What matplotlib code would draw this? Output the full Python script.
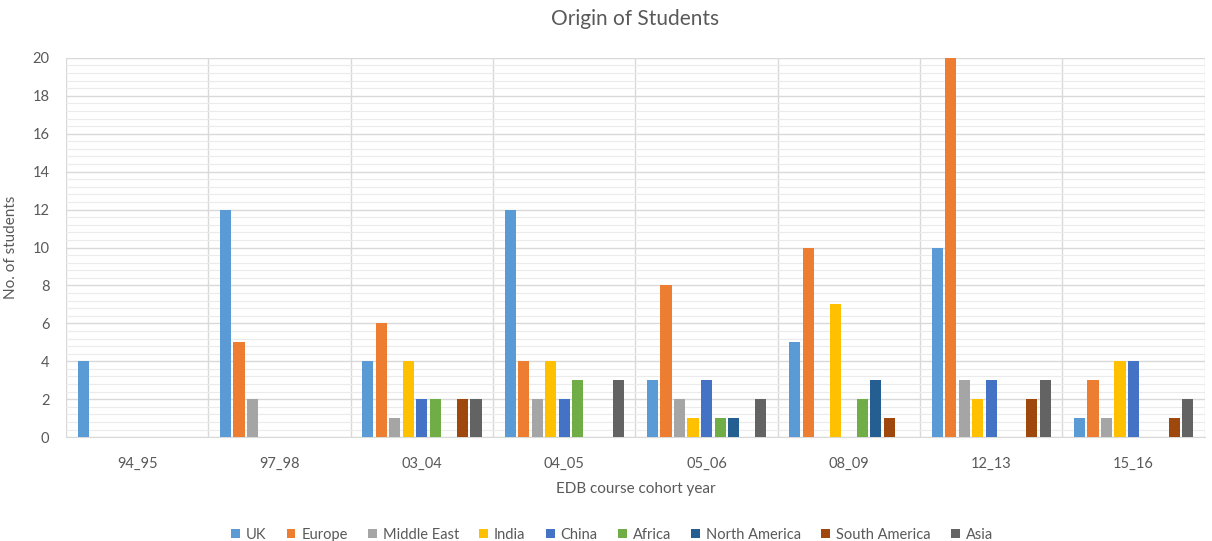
import numpy as np
from matplotlib import pyplot as plt
from matplotlib.ticker import MultipleLocator

plt.rcParams['font.family'] = ['Lato', 'DejaVu Sans']

years = ['94_95', '97_98', '03_04', '04_05', '05_06', '08_09', '12_13', '15_16']
regions = ['UK', 'Europe', 'Middle East', 'India', 'China', 'Africa',
           'North America', 'South America', 'Asia']

uk = [4, 12, 4, 12, 3, 5, 10, 1]
europe = [0, 5, 6, 4, 8, 10, 20, 3]
middle_east = [0, 2, 1, 2, 2, 0, 3, 1]
india = [0, 0, 4, 4, 1, 7, 2, 4]
china = [0, 0, 2, 2, 3, 0, 3, 4]
africa = [0, 0, 2, 3, 1, 2, 0, 0]
north_america = [0, 0, 0, 0, 1, 3, 0, 0]
south_america = [0, 0, 2, 0, 0, 1, 2, 1]
asia = [0, 0, 2, 3, 2, 0, 3, 2]

series = [uk, europe, middle_east, india, china, africa,
          north_america, south_america, asia]
colors = ['#5B9BD5', '#ED7D31', '#A5A5A5', '#FFC000', '#4472C4',
          '#70AD47', '#255E91', '#9E480E', '#636363']

fig = plt.figure(figsize=(12.12, 5.41), dpi=100)
ax = fig.add_axes([0.0545, 0.192, 0.9395, 0.701])

x = np.arange(len(years))
slot = 0.095
width = 0.078
for i, (vals, name, c) in enumerate(zip(series, regions, colors)):
    offset = (i - 4) * slot
    ax.bar(x + offset, vals, width, color=c, label=name, zorder=3)

ax.set_xlim(-0.5, len(years) - 0.5)
ax.set_ylim(0, 20)
ax.yaxis.set_major_locator(MultipleLocator(2))
ax.yaxis.set_minor_locator(MultipleLocator(0.4))
ax.grid(axis='y', which='major', color='#D9D9D9', lw=1, zorder=0)
ax.grid(axis='y', which='minor', color='#EBEBEB', lw=0.8, zorder=0)

# category separators
for b in np.arange(-0.5, len(years), 1.0):
    ax.axvline(b, color='#D9D9D9', lw=1, zorder=1)

ax.set_xticks(x)
ax.set_xticklabels(years)
ax.tick_params(axis='both', which='both', length=0, labelsize=10.5, colors='#595959')
ax.tick_params(axis='x', pad=14)
ax.tick_params(axis='y', pad=12)
for s in ['top', 'right', 'left']:
    ax.spines[s].set_visible(False)
ax.spines['bottom'].set_color('#D9D9D9')

ax.set_title('Origin of Students', fontsize=15, color='#595959', pad=24)
ax.set_xlabel('EDB course cohort year', fontsize=11, color='#595959', labelpad=8)
ax.set_ylabel('No. of students', fontsize=11, color='#595959', labelpad=10)

leg = fig.legend(loc='lower center', bbox_to_anchor=(0.505, -0.026), ncol=9,
                 frameon=False, fontsize=10.5, handlelength=0.6, handleheight=0.6,
                 handletextpad=0.4, columnspacing=1.4)
for t in leg.get_texts():
    t.set_color('#595959')

plt.savefig('out.png', dpi=100)
